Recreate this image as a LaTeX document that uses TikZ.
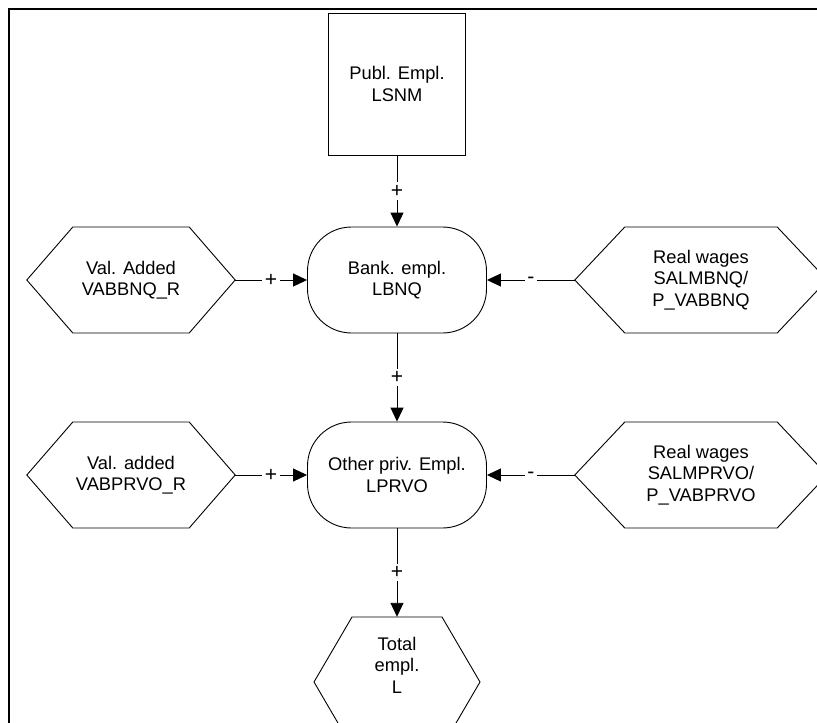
\documentclass[tikz,border=0pt]{standalone}
\usepackage{fontspec}
\setmainfont{Liberation Sans}
\usetikzlibrary{arrows.meta,calc}

% hexagon: name, centre x, centre y, half width (to the points), half height, slant run, text
\newcommand\hexnode[7]{%
  \node[hexlabel, minimum width=2*#4, minimum height=2*#5] (#1) at (#2,#3) {#7};
  \draw[outline] (#1.west) -- ++(#6,-#5) -- ($(#1.east)+(-#6,-#5)$) -- (#1.east)
    -- ++(-#6,#5) -- ($(#1.west)+(#6,#5)$) -- cycle;
}

\begin{document}
\begin{tikzpicture}[x=1pt,y=-1pt,
  txt/.style={font=\fontsize{18.3}{21.5}\selectfont, align=center},
  outline/.style={draw, line width=0.9pt, line join=miter},
  hexlabel/.style={txt, inner sep=0pt},
  pill/.style={txt, outline, rounded corners=44pt, minimum width=179pt, minimum height=106pt, inner sep=0pt},
  sqbox/.style={txt, outline, minimum width=137pt, minimum height=142pt, inner sep=0pt},
  link/.style={line width=0.9pt, -{Triangle[length=14pt,width=13pt]}},
  sign/.style={font=\fontsize{21}{21}\selectfont, fill=white, inner sep=2.5pt}]

\useasboundingbox (0,0) rectangle (817,723);
\clip (0,0) rectangle (817,723);

% page frame
\draw[line width=2.6pt] (9,780) -- (9,9) -- (860,9);

% public employment
\node[sqbox] (publ) at (397,84) {Publ. Empl.\\LSNM};

% banking row
\node[pill] (bank) at (397,280) {Bank. empl.\\LBNQ};
\hexnode{vabnq}{131}{280}{104}{53}{46}{Val. Added\\VABBNQ\_R}
\hexnode{wbnq}{701}{280}{126}{53}{50}{Real wages\\SALMBNQ/\\P\_VABBNQ}

% other private row
\node[pill] (prvo) at (397,475) {Other priv. Empl.\\LPRVO};
\hexnode{vaprvo}{131}{475}{104}{53}{46}{Val. added\\VABPRVO\_R}
\hexnode{wprvo}{701}{475}{126}{53}{50}{Real wages\\SALMPRVO/\\P\_VABPRVO}

% total employment
\node[txt, inner sep=0pt, minimum width=166pt, minimum height=96pt] (tot) at (397,665) {Total\\empl.\\L};
\draw[outline] (314,682) -- (352,617) -- (442,617) -- (480,682) -- (442,747) -- (352,747) -- cycle;

% links
\draw[link] (publ.south) -- node[sign] {+} (bank.north);
\draw[link] (vabnq.east) -- node[sign] {+} (bank.west);
\draw[link] (wbnq.west) -- node[sign] {-} (bank.east);
\draw[link] (bank.south) -- node[sign] {+} (prvo.north);
\draw[link] (vaprvo.east) -- node[sign] {+} (prvo.west);
\draw[link] (wprvo.west) -- node[sign] {-} (prvo.east);
\draw[link] (prvo.south) -- node[sign] {+} (tot.north);
\end{tikzpicture}
\end{document}
